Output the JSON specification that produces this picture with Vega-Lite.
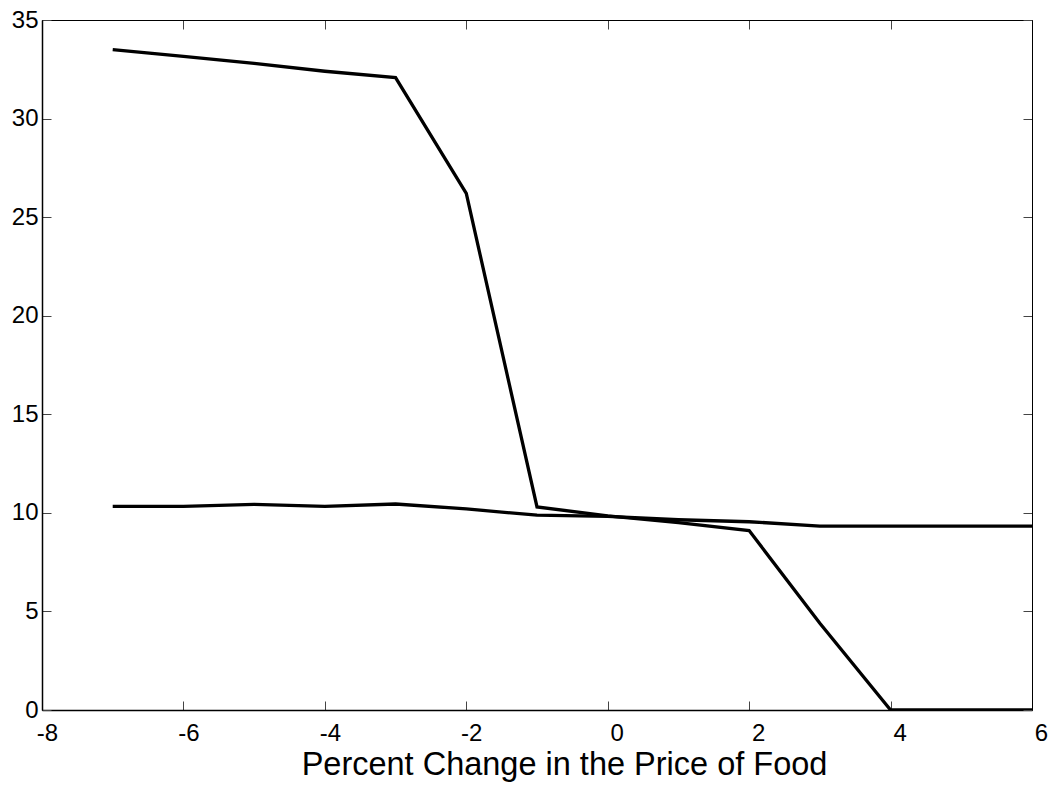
{
  "$schema": "https://vega.github.io/schema/vega-lite/v6.json",
  "width": 990,
  "height": 690,
  "autosize": {"type": "none"},
  "padding": {"left": 42, "top": 20, "right": 21, "bottom": 79},
  "background": "white",
  "config": {
    "view": {"stroke": "black", "strokeWidth": 1},
    "font": "Liberation Sans",
    "axis": {
      "grid": false,
      "domainColor": "black",
      "domainWidth": 1.5,
      "tickColor": "#444",
      "tickWidth": 1,
      "tickSize": -9,
      "labelFont": "Liberation Sans",
      "labelFontSize": 24,
      "labelColor": "black",
      "titleFont": "Liberation Sans",
      "titleFontWeight": "normal",
      "titleColor": "black"
    }
  },
  "data": {
    "values": [
      {"x": -7, "y": 33.5, "s": "a"},
      {"x": -6, "y": 33.15, "s": "a"},
      {"x": -5, "y": 32.8, "s": "a"},
      {"x": -4, "y": 32.4, "s": "a"},
      {"x": -3, "y": 32.08, "s": "a"},
      {"x": -2, "y": 26.2, "s": "a"},
      {"x": -1, "y": 10.3, "s": "a"},
      {"x": 0, "y": 9.85, "s": "a"},
      {"x": 1, "y": 9.5, "s": "a"},
      {"x": 2, "y": 9.1, "s": "a"},
      {"x": 3, "y": 4.4, "s": "a"},
      {"x": 4, "y": 0, "s": "a"},
      {"x": 5, "y": 0, "s": "a"},
      {"x": 6, "y": 0, "s": "a"},
      {"x": -7, "y": 10.33, "s": "b"},
      {"x": -6, "y": 10.33, "s": "b"},
      {"x": -5, "y": 10.43, "s": "b"},
      {"x": -4, "y": 10.33, "s": "b"},
      {"x": -3, "y": 10.45, "s": "b"},
      {"x": -2, "y": 10.2, "s": "b"},
      {"x": -1, "y": 9.88, "s": "b"},
      {"x": 0, "y": 9.82, "s": "b"},
      {"x": 1, "y": 9.65, "s": "b"},
      {"x": 2, "y": 9.55, "s": "b"},
      {"x": 3, "y": 9.33, "s": "b"},
      {"x": 4, "y": 9.33, "s": "b"},
      {"x": 5, "y": 9.33, "s": "b"},
      {"x": 6, "y": 9.33, "s": "b"}
    ]
  },
  "layer": [
    {
      "mark": {"type": "line", "color": "black", "strokeWidth": 3.3, "clip": true},
      "encoding": {
        "x": {
          "field": "x", "type": "quantitative",
          "scale": {"domain": [-8, 6], "nice": false, "zero": false},
          "axis": {
            "orient": "bottom",
            "values": [-8, -6, -4, -2, 0, 2, 4, 6],
            "labelExpr": "'' + datum.value",
            "labelBaseline": "alphabetic",
            "labelPadding": 39,
            "labelOffset": {"condition": {"test": "datum.value < 0", "value": 5}, "value": 9},
            "labelFlush": false,
            "title": "Percent Change in the Price of Food",
            "titleFontSize": 32.5,
            "titleBaseline": "alphabetic",
            "titleAlign": "center",
            "titleX": 522,
            "titleY": 64
          }
        },
        "y": {
          "field": "y", "type": "quantitative",
          "scale": {"domain": [0, 35], "nice": false},
          "axis": {"orient": "left", "values": [0, 5, 10, 15, 20, 25, 30, 35], "title": null, "labelPadding": 13, "labelFlush": false}
        },
        "detail": {"field": "s"}
      }
    },
    {
      "mark": {"type": "line", "color": "black", "strokeWidth": 3.3, "opacity": 0},
      "encoding": {
        "x": {
          "field": "x", "type": "quantitative",
          "axis": {"orient": "top", "values": [-8, -6, -4, -2, 0, 2, 4, 6], "labels": false, "title": null, "domainWidth": 1}
        },
        "y": {
          "field": "y", "type": "quantitative",
          "axis": {"orient": "right", "values": [0, 5, 10, 15, 20, 25, 30, 35], "labels": false, "title": null, "domainWidth": 1}
        },
        "detail": {"field": "s"}
      }
    }
  ],
  "resolve": {"axis": {"x": "independent", "y": "independent"}}
}
